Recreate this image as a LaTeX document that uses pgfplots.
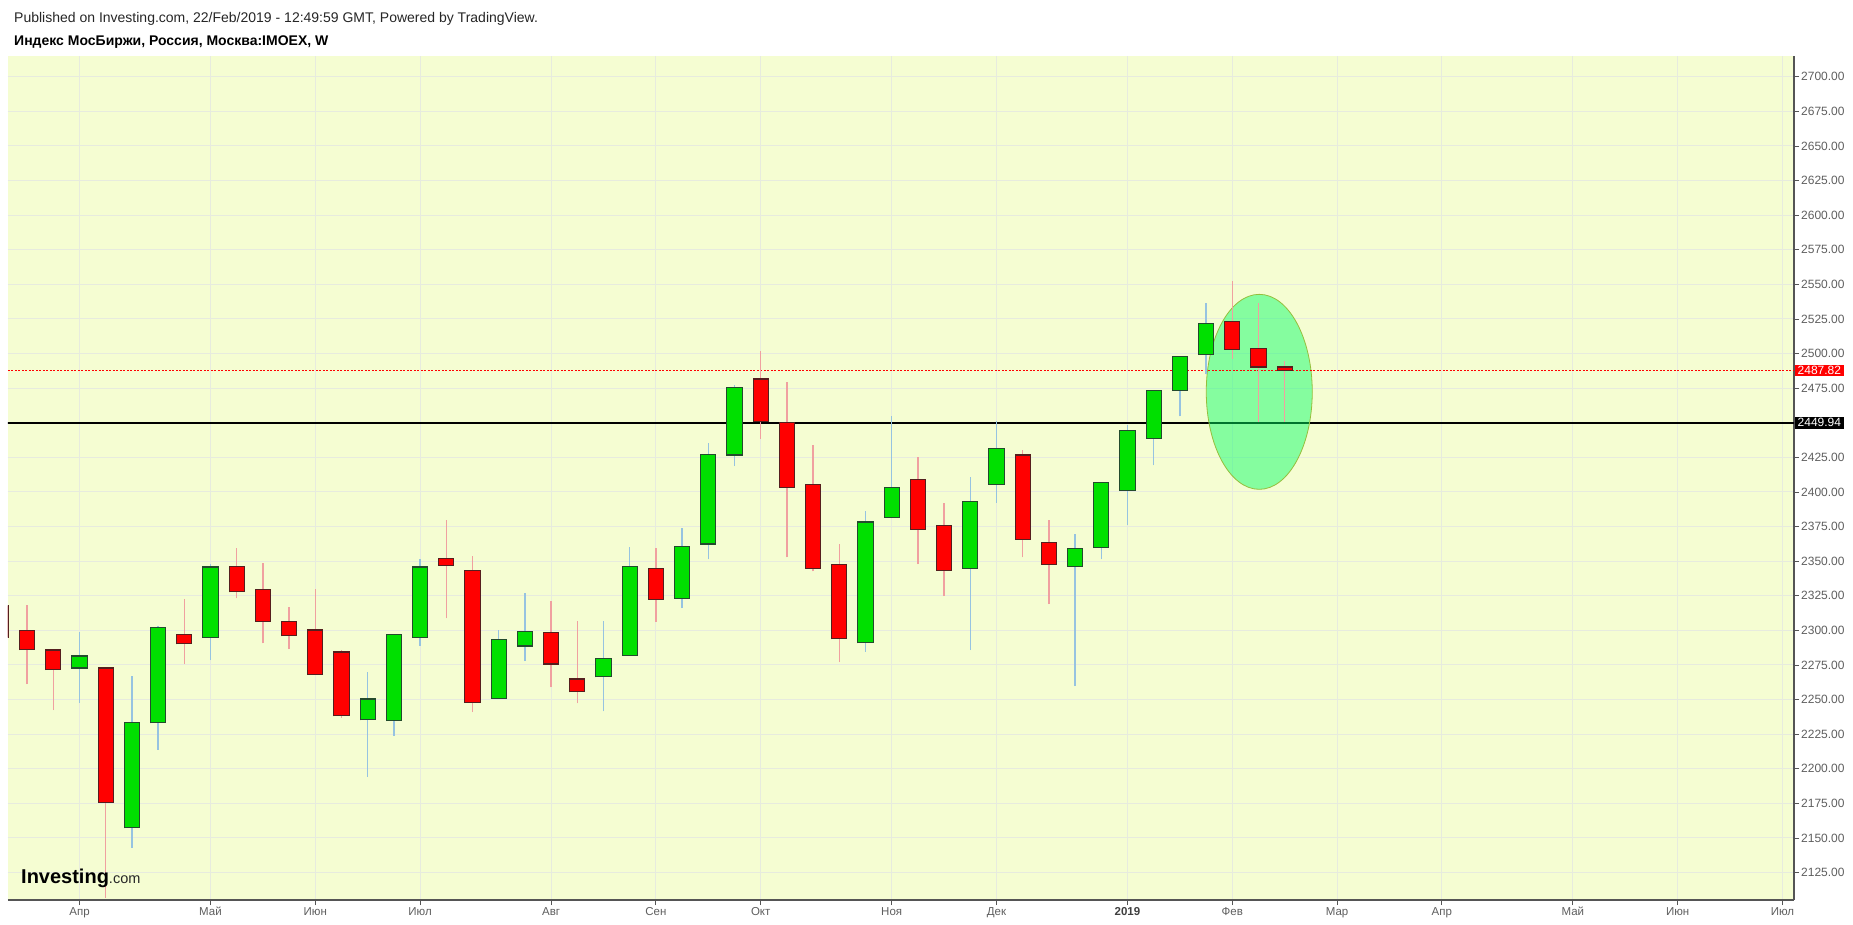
\documentclass[border=0pt]{standalone}
\usepackage{fontspec}
\setmainfont{Liberation Sans}
\usepackage{pgfplots}
\pgfplotsset{compat=1.18}
\usepackage{pgfplotstable}

\definecolor{bg}{RGB}{245,253,210}
\definecolor{gridc}{RGB}{231,235,222}
\definecolor{upc}{RGB}{0,224,0}
\definecolor{dnc}{RGB}{255,0,0}
\definecolor{upwick}{RGB}{150,195,225}
\definecolor{dnwick}{RGB}{240,160,160}
\definecolor{upedge}{RGB}{35,75,45}
\definecolor{dnedge}{RGB}{85,30,30}
\definecolor{axc}{RGB}{85,85,85}
\definecolor{labc}{RGB}{95,95,95}
\definecolor{ellfill}{RGB}{0,255,100}
\definecolor{elledge}{RGB}{150,190,60}

% weekly candles, x = week index (0 = week of 2 Apr 2018)
\pgfplotstableread{
x o h l c
-3 2318 2320 2290 2295
-2 2299.7 2318 2261.2 2286.1
-1 2285.8 2286.5 2242.3 2271.6
1 2272.8 2273.5 2106.6 2175.9
4 2296.8 2322.9 2275.7 2290.2
6 2346.4 2359.2 2323.2 2327.9
7 2329.3 2349 2290.7 2306.7
8 2306.7 2317.1 2286.4 2296
9 2300.3 2330.2 2268 2268.4
10 2284.4 2286 2237 2238.2
14 2352.2 2380.1 2308.7 2347
15 2343.5 2353.4 2240.9 2248.1
18 2298.3 2321.5 2258.8 2275.7
19 2264.9 2307 2247.2 2255.6
22 2345 2359.8 2306.4 2322.6
26 2481.6 2501.9 2438.1 2450.8
27 2450.2 2479.5 2352.8 2403.5
28 2405.6 2434 2342.6 2345
29 2347.9 2362.1 2277.1 2293.9
32 2408.8 2425.6 2347.9 2373.1
33 2375.7 2392.2 2324.7 2343.5
36 2426.7 2430.5 2352.8 2365.8
37 2363.8 2380.1 2318.9 2347.9
44 2523.3 2552.6 2496.1 2503
45 2503.9 2536.7 2450.2 2490.3
46 2490.3 2494.9 2450.8 2487.82
}\down

\pgfplotstableread{
x o h l c
0 2272.8 2298.6 2247.5 2281.5
2 2157.3 2266.7 2142.8 2233.3
3 2233.3 2303.2 2213.6 2301.8
5 2294.8 2347.9 2278.6 2345.8
11 2235.3 2269.6 2194.2 2250.4
12 2234.8 2297.5 2224 2296.8
13 2294.8 2351.9 2289 2345.8
16 2251 2300.6 2250.5 2293.1
17 2288.7 2327.3 2277.7 2298.9
20 2266.4 2307 2241.4 2280
21 2282 2360.6 2281.5 2346.4
23 2323.2 2374.3 2316 2360.9
24 2362.4 2435.4 2351.3 2427.3
25 2426.7 2477.2 2418.6 2475.8
30 2291 2386.4 2284.4 2378.3
31 2381.8 2455.2 2381 2403.5
34 2345 2411.1 2285.8 2392.8
35 2405.6 2451 2392.2 2431.7
38 2346.4 2369.9 2259.7 2358.9
39 2359.8 2407.5 2351.3 2407
40 2401.2 2448.5 2376 2444.7
41 2438.9 2474 2419.2 2473.4
42 2473.4 2498.5 2454.6 2498.1
43 2499.2 2536.7 2485 2521.9
}\up

\begin{document}
\begin{tikzpicture}[x=1pt,y=1pt]
\fill[white] (-8,-24) rectangle (1845,900);
\useasboundingbox (-8,-24) rectangle (1845,900);

\node[anchor=west, inner sep=0pt, font=\fontsize{14}{16}\selectfont, text=black!85] at (6,881)
  {Published on Investing.com, 22/Feb/2019 - 12:49:59 GMT, Powered by TradingView.};
\node[anchor=west, inner sep=0pt, font=\fontsize{14}{16}\selectfont\bfseries, text=black] at (6,857.5)
  {Индекс МосБиржи, Россия, Москва:IMOEX, W};

\begin{axis}[
  at={(0,0)}, anchor=south west,
  scale only axis, width=1786pt, height=844pt,
  xmin=-2.729, xmax=65.44, ymin=2105.2, ymax=2715,
  axis background/.style={fill=bg},
  axis x line*=bottom, axis y line*=right,
  axis line style={draw=axc, line width=1.3pt, -},
  tick align=outside, major tick length=5pt,
  tick style={draw=axc, line width=0.8pt},
  grid=major, major grid style={draw=gridc, line width=1pt},
  xtick={0,5,9,13,18,22,26,31,35,40,44,48,52,57,61,65},
  xticklabels={Апр,Май,Июн,Июл,Авг,Сен,Окт,Ноя,Дек,\textbf{\textcolor{black!75}{2019}},Фев,Мар,Апр,Май,Июн,Июл},
  xticklabel style={font=\fontsize{11.5}{13}\selectfont, text=labc, inner sep=2pt},
  ytick={2125,2150,...,2700},
  scaled y ticks=false,
  /pgf/number format/assume math mode=true,
  yticklabel style={font=\fontsize{12}{13}\selectfont, text=labc, inner sep=2pt,
    /pgf/number format/fixed, /pgf/number format/fixed zerofill,
    /pgf/number format/precision=2, /pgf/number format/1000 sep={}},
  clip mode=individual,
  candle/.style={draw=none, mark=none, error bars/.cd, y dir=plus, y explicit, error mark=none},
]
% support line
\addplot[black, line width=1.3pt, mark=none] coordinates {(-3,2449.94) (66,2449.94)};
% highlight ellipse
\fill[ellfill, fill opacity=0.455] (axis cs:45.03,2472.35) ellipse [x radius=53pt, y radius=97.5pt];
\draw[elledge, line width=0.8pt] (axis cs:45.03,2472.35) ellipse [x radius=53pt, y radius=97.5pt];
% last price line
\addplot[dnc, line width=0.9pt, mark=none, dash pattern=on 2pt off 1.5pt] coordinates {(-3,2487.82) (66,2487.82)};

% wicks
\addplot[candle, error bar style={draw=dnwick, line width=1.3pt}]
  table[x=x, y=l, y error expr=\thisrow{h}-\thisrow{l}] {\down};
\addplot[candle, error bar style={draw=upwick, line width=1.3pt}]
  table[x=x, y=l, y error expr=\thisrow{h}-\thisrow{l}] {\up};
% bodies: outline then fill
\addplot[candle, error bar style={draw=dnedge, line width=16.3pt}]
  table[x=x, y expr={min(\thisrow{o},\thisrow{c})-0.4}, y error expr={abs(\thisrow{c}-\thisrow{o})+0.8}] {\down};
\addplot[candle, error bar style={draw=dnc, line width=14.3pt}]
  table[x=x, y expr={min(\thisrow{o},\thisrow{c})+0.4}, y error expr={max(abs(\thisrow{c}-\thisrow{o})-0.8,0)}] {\down};
\addplot[candle, error bar style={draw=upedge, line width=16.3pt}]
  table[x=x, y expr={min(\thisrow{o},\thisrow{c})-0.4}, y error expr={abs(\thisrow{c}-\thisrow{o})+0.8}] {\up};
\addplot[candle, error bar style={draw=upc, line width=14.3pt}]
  table[x=x, y expr={min(\thisrow{o},\thisrow{c})+0.4}, y error expr={max(abs(\thisrow{c}-\thisrow{o})-0.8,0)}] {\up};

% price labels on the right scale
\node[anchor=west, fill=dnc, text=white, inner xsep=2.5pt, inner ysep=1.5pt, xshift=1pt,
  font=\fontsize{12}{13}\selectfont] at (axis cs:65.44,2487.82) {2487.82};
\node[anchor=west, fill=black, text=white, inner xsep=2.5pt, inner ysep=1.5pt, xshift=1pt,
  font=\fontsize{12}{13}\selectfont] at (axis cs:65.44,2449.94) {2449.94};
% watermark
\node[anchor=base west, inner sep=0pt, xshift=13pt, yshift=17pt] at (rel axis cs:0,0)
  {\fontsize{20}{20}\selectfont\bfseries Investing\fontsize{14.5}{14}\selectfont\mdseries\textcolor{black!85}{.com}};
\end{axis}
\end{tikzpicture}
\end{document}
